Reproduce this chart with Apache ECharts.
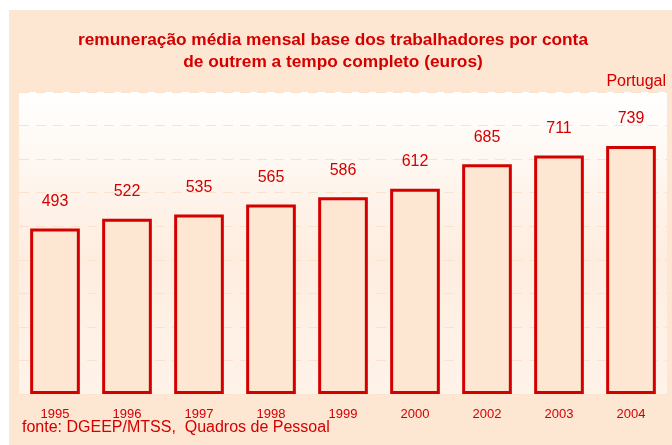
<!DOCTYPE html>
<html>
<head>
<meta charset="utf-8">
<script src="https://cdn.jsdelivr.net/npm/echarts@6/dist/echarts.min.js"></script>
<style>
html, body { margin: 0; padding: 0; background: #fff; }
#chart { width: 672px; height: 445px; }
</style>
</head>
<body>
<div id="chart"></div>
<script>
var years = ['1995', '1996', '1997', '1998', '1999', '2000', '2002', '2003', '2004'];
var salaries = [493, 522, 535, 565, 586, 612, 685, 711, 739];

var red = '#D40000';
var peach = '#FDE6D2';
var font = '"Liberation Sans", Arial, sans-serif';

var myChart = echarts.init(document.getElementById('chart'));
myChart.setOption({
    backgroundColor: '#fff',
    textStyle: { fontFamily: font },
    graphic: [
        {
            type: 'rect',
            z: -10,
            shape: { x: 9, y: 10, width: 663, height: 435 },
            style: { fill: peach }
        },
        {
            type: 'text',
            left: 22,
            top: 420,
            style: {
                text: 'fonte: DGEEP/MTSS,  Quadros de Pessoal',
                fill: red,
                font: '16px ' + font
            }
        },
        {
            type: 'text',
            right: 6,
            top: 74,
            style: {
                text: 'Portugal',
                fill: red,
                font: '16px ' + font
            }
        }
    ],
    title: {
        text: 'remuneração média mensal base dos trabalhadores por conta\nde outrem a tempo completo (euros)',
        left: 328,
        textAlign: 'center',
        top: 24,
        textStyle: {
            color: red,
            fontSize: 17.3,
            fontWeight: 'bold',
            lineHeight: 22,
            fontFamily: font
        }
    },
    grid: {
        left: 19,
        right: 5,
        top: 92,
        bottom: 51,
        show: true,
        borderWidth: 0,
        backgroundColor: {
            type: 'linear', x: 0, y: 0, x2: 0, y2: 1,
            colorStops: [
                { offset: 0, color: '#ffffff' },
                { offset: 0.55, color: '#FEEDDF' },
                { offset: 1, color: '#FEF3EA' }
            ]
        }
    },
    xAxis: {
        type: 'category',
        data: years,
        axisLine: { show: false },
        axisTick: { show: false },
        axisLabel: { color: red, fontSize: 13, margin: 14 }
    },
    yAxis: {
        type: 'value',
        min: 0,
        max: 900,
        interval: 100,
        axisLabel: { show: false },
        axisLine: { show: false },
        axisTick: { show: false },
        splitLine: {
            show: true,
            lineStyle: { color: '#FBE2CC', type: [10, 7], width: 1 }
        }
    },
    series: [
        {
            type: 'bar',
            data: salaries,
            barWidth: '69%',
            itemStyle: {
                color: peach,
                borderColor: red,
                borderWidth: 3
            },
            label: {
                show: true,
                position: 'top',
                distance: 19,
                color: red,
                fontSize: 16,
                fontFamily: font
            }
        }
    ]
});
</script>
</body>
</html>
